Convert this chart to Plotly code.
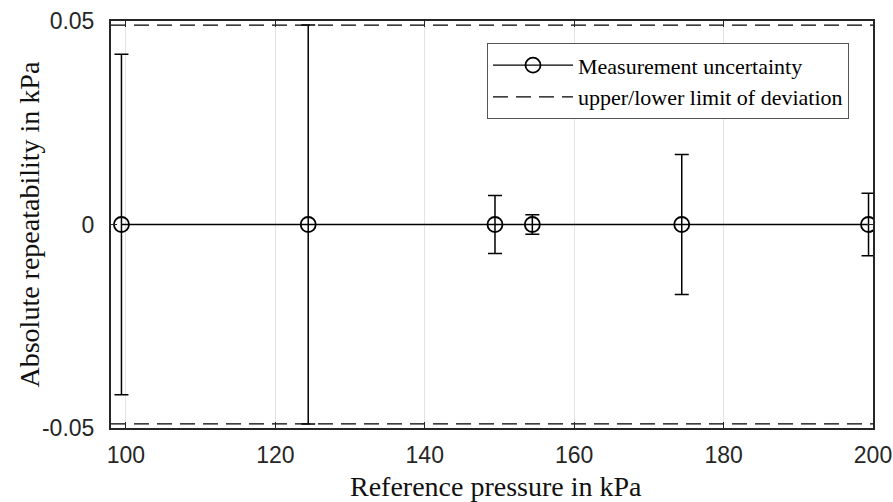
import plotly.graph_objects as go

# Data
ref_pressure = [99.4, 124.4, 149.4, 154.4, 174.4, 199.4]
abs_repeatability = [0, 0, 0, 0, 0, 0]
meas_uncertainty = [0.0418, 0.049, 0.0071, 0.0024, 0.0172, 0.0077]
limit_x = [98, 200]
limit_value = 0.049

x_ticks = [100, 120, 140, 160, 180, 200]
y_ticks = [-0.05, 0, 0.05]
y_ticktext = ["-0.05", "0", "0.05"]
x_title = "Reference pressure in kPa"
y_title = "Absolute repeatability in kPa"

fig = go.Figure()

fig.add_trace(go.Scatter(
    x=ref_pressure, y=abs_repeatability,
    mode="lines+markers",
    name="Measurement uncertainty",
    line=dict(color="black", width=1.3),
    marker=dict(symbol="circle-open", size=15, color="black", line=dict(width=1.8, color="black")),
    error_y=dict(type="data", array=meas_uncertainty, visible=True,
                 color="black", thickness=1.5, width=7),
))

fig.add_trace(go.Scatter(
    x=[limit_x[0], limit_x[1], None, limit_x[0], limit_x[1]],
    y=[limit_value, limit_value, None, -limit_value, -limit_value],
    mode="lines",
    name="upper/lower limit of deviation",
    line=dict(color="black", width=1.3, dash="15px,8px"),
    connectgaps=False,
))

axis_common = dict(
    showline=True, linewidth=2, linecolor="#262626", mirror="allticks",
    ticks="inside", ticklen=6, tickwidth=1.3, tickcolor="#262626",
    tickfont=dict(family="Liberation Sans, Arial, sans-serif", size=23, color="#262626"),
    zeroline=False, automargin=False,
)

fig.update_xaxes(
    range=[98, 200], tickvals=x_ticks,
    showgrid=True, gridcolor="#e3e3e3", gridwidth=1,
    ticklabelstandoff=5,
    **axis_common,
)
fig.update_yaxes(
    range=[-0.05, 0.05], tickvals=y_ticks, ticktext=y_ticktext,
    showgrid=False,
    ticklabelstandoff=10,
    **axis_common,
)

title_font = dict(family="Liberation Serif, Times New Roman, serif", size=28, color="#111")
fig.add_annotation(text=x_title, xref="paper", yref="paper", x=0.5, y=0,
                   yshift=-58, xshift=4, showarrow=False, font=title_font,
                   xanchor="center", yanchor="middle")
fig.add_annotation(text=y_title, xref="paper", yref="paper", x=0, y=0.5,
                   xshift=-82, showarrow=False, font=title_font, textangle=-90,
                   xanchor="center", yanchor="middle")

fig.update_layout(
    width=893, height=502,
    margin=dict(l=111, r=20, t=21, b=74),
    paper_bgcolor="white", plot_bgcolor="white",
    showlegend=True,
    legend=dict(
        x=0.9685, y=0.945, xanchor="right", yanchor="top",
        bgcolor="white", bordercolor="#555", borderwidth=1,
        font=dict(family="Liberation Serif, Times New Roman, serif", size=22, color="black"),
        itemwidth=80, tracegroupgap=0,
    ),
)

fig.write_html("out.html")
